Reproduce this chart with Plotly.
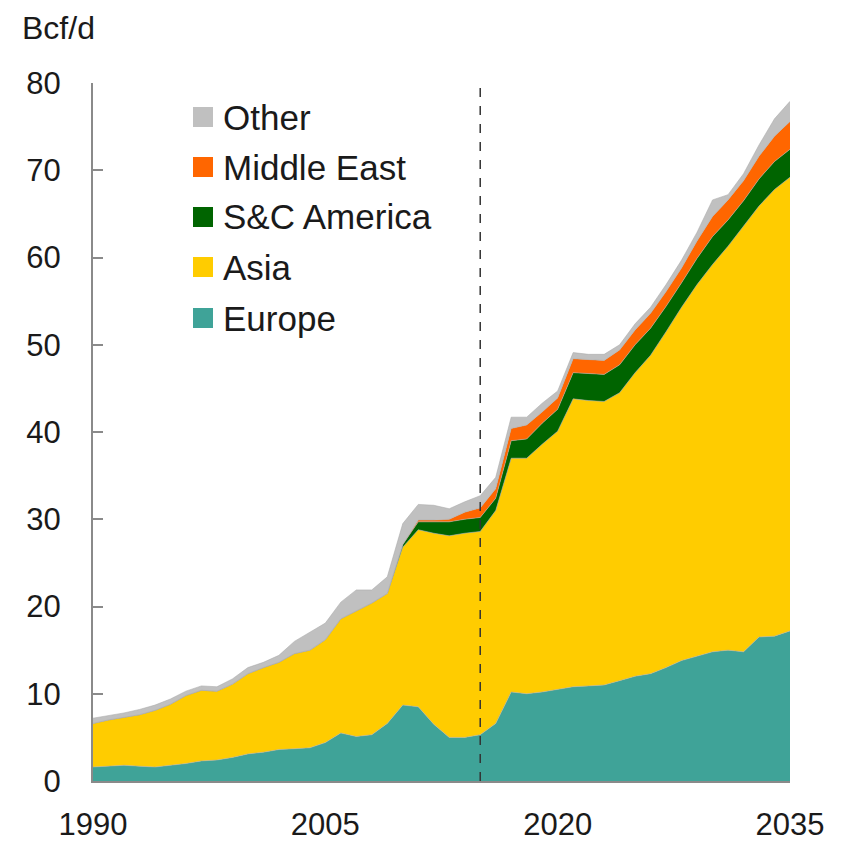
import plotly.graph_objects as go

years = list(range(1990, 2036))

europe = [1.6, 1.7, 1.8, 1.7, 1.6, 1.8, 2.0, 2.3, 2.4, 2.7,
          3.1, 3.3, 3.6, 3.7, 3.8, 4.4, 5.5, 5.1, 5.3, 6.6,
          8.7, 8.5, 6.5, 5.0, 5.0, 5.3, 6.6, 10.2, 10.0, 10.2,
          10.5, 10.8, 10.9, 11.0, 11.5, 12.0, 12.3, 13.0, 13.8, 14.3,
          14.8, 15.0, 14.8, 16.5, 16.6, 17.2]
asia = [5.0, 5.3, 5.5, 5.9, 6.5, 7.0, 7.8, 8.1, 7.9, 8.4,
        9.2, 9.7, 10.0, 10.9, 11.2, 11.8, 13.1, 14.4, 15.1, 14.9,
        18.1, 20.3, 21.9, 23.1, 23.4, 23.3, 24.4, 26.8, 27.0, 28.4,
        29.6, 33.0, 32.7, 32.5, 33.0, 34.8, 36.5, 38.5, 40.5, 42.6,
        44.4, 46.3, 48.8, 49.4, 51.2, 52.0]
sc_america = [0, 0, 0, 0, 0, 0, 0, 0, 0, 0,
              0, 0, 0, 0, 0, 0, 0, 0, 0, 0,
              0.3, 0.9, 1.3, 1.6, 1.6, 1.6, 1.4, 2.0, 2.2, 2.4,
              2.5, 3.0, 3.1, 3.1, 3.2, 3.2, 3.1, 2.9, 2.8, 3.0,
              3.2, 3.0, 2.9, 3.1, 3.2, 3.2]
middle_east = [0, 0, 0, 0, 0, 0, 0, 0, 0, 0,
               0, 0, 0, 0, 0, 0, 0, 0, 0, 0,
               0, 0.2, 0.2, 0.3, 0.8, 1.1, 1.1, 1.4, 1.6, 1.3,
               1.3, 1.6, 1.6, 1.6, 1.7, 1.7, 1.7, 1.7, 1.7, 2.0,
               2.3, 2.3, 2.3, 2.6, 2.9, 3.2]
other = [0.6, 0.5, 0.5, 0.6, 0.6, 0.6, 0.5, 0.5, 0.5, 0.6,
         0.7, 0.6, 0.8, 1.4, 2.0, 1.9, 1.9, 2.4, 1.5, 1.9,
         2.4, 1.8, 1.7, 1.2, 1.2, 1.4, 1.3, 1.3, 0.9, 1.0,
         0.8, 0.7, 0.6, 0.7, 0.6, 0.7, 0.7, 0.8, 0.9, 1.0,
         1.9, 0.6, 0.8, 1.3, 2.0, 2.3]

series_names = ["Europe", "Asia", "S&C America", "Middle East", "Other"]
series_values = [europe, asia, sc_america, middle_east, other]
series_colors = ["#3fa398", "#ffcc00", "#006400", "#ff6600", "#c0c0c0"]

x_tick_vals = [1990, 2005, 2020, 2035]
x_tick_text = ["1990", "2005", "2020", "2035"]
forecast_start = 2015
y_unit = "Bcf/d"

FONT = "Liberation Sans, Arial, sans-serif"
TXT = "#1a1a1a"

# page offset (body margin) compensation
OFF = 8
FIG_W, FIG_H = 843 - OFF, 841 - OFF
L, T = 93 - OFF, 83 - OFF
PW, PH = 697, 698
R_M = FIG_W - L - PW
B_M = FIG_H - T - PH

fig = go.Figure()
for name, vals, col in zip(series_names, series_values, series_colors):
    fig.add_trace(go.Scatter(
        x=years, y=vals, name=name, mode="lines", stackgroup="one",
        line=dict(width=0.8, color="rgba(170,170,170,0.7)"),
        fillcolor=col, showlegend=False,
        hoverinfo="x+y+name",
    ))

fig.add_vline(x=forecast_start, line=dict(color="#333333", width=1.5, dash="dash"))

# manual legend (top item = Other); positions in screenshot pixels
row_y = [117, 167, 217, 267, 318]
legend_order = list(reversed(range(len(series_names))))
def px_x(px):
    return (px - 93) / PW
def px_y(py):
    return (781 - py) / PH
for k, idx in enumerate(legend_order):
    yc = px_y(row_y[k])
    fig.add_shape(type="rect", xref="paper", yref="paper",
                  x0=px_x(193), x1=px_x(213),
                  y0=yc - 10 / PH, y1=yc + 10 / PH,
                  fillcolor=series_colors[idx], line=dict(width=0))
    fig.add_annotation(xref="paper", yref="paper", x=px_x(221), y=yc,
                       text=series_names[idx], showarrow=False,
                       xanchor="left", yanchor="middle",
                       font=dict(family=FONT, size=35, color=TXT))

fig.add_annotation(xref="paper", yref="paper", x=px_x(20), y=px_y(28),
                   text=y_unit, showarrow=False, xanchor="left", yanchor="middle",
                   font=dict(family=FONT, size=32, color=TXT))

fig.update_layout(
    width=FIG_W, height=FIG_H,
    margin=dict(l=L, r=R_M, t=T, b=B_M, autoexpand=False),
    paper_bgcolor="white", plot_bgcolor="white",
    font=dict(family=FONT, size=31, color=TXT),
    xaxis=dict(range=[1990, 2035], tickvals=x_tick_vals, ticktext=x_tick_text,
               showline=True, linecolor="#8a8a8a", linewidth=2, ticks="",
               showgrid=False, zeroline=False, ticklabelstandoff=15,
               automargin=False,
               tickfont=dict(family=FONT, size=31, color=TXT)),
    yaxis=dict(range=[0, 80], dtick=10, showline=True, linecolor="#8a8a8a",
               linewidth=2, ticks="inside", ticklen=10, tickwidth=2,
               tickcolor="#8a8a8a", showgrid=False, zeroline=False,
               ticklabelstandoff=24, automargin=False,
               tickfont=dict(family=FONT, size=31, color=TXT)),
)

fig.write_html("out.html")
